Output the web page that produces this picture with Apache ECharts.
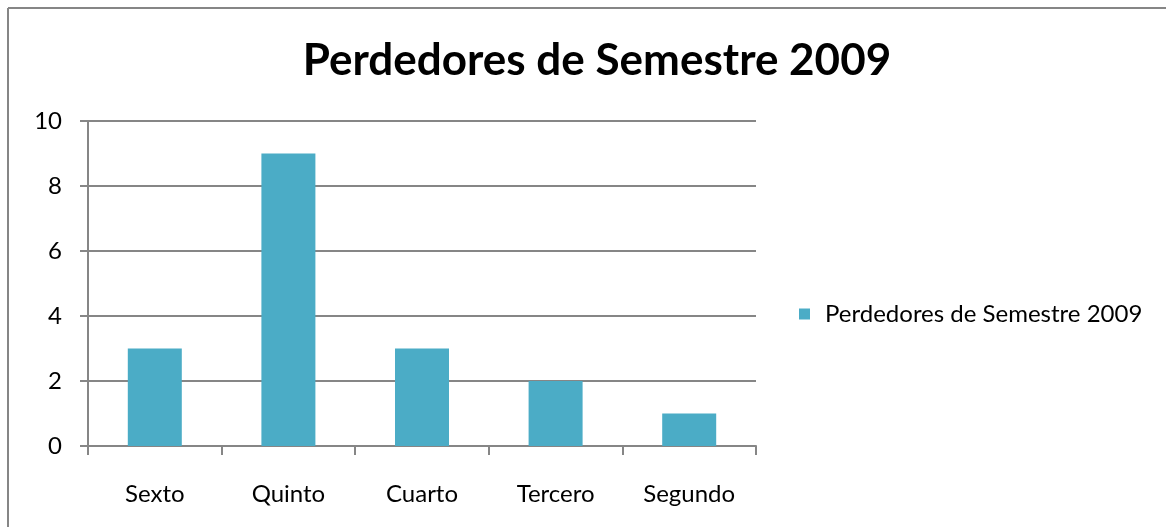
<!DOCTYPE html>
<html><head><meta charset="utf-8">
<script src="https://cdn.jsdelivr.net/npm/echarts@6/dist/echarts.min.js"></script>
<style>html,body{margin:0;padding:0;background:#fff}#c{width:1166px;height:527px}</style>
</head><body><div id="c"></div>
<script>
const title = 'Perdedores de Semestre 2009';
const categories = ['Sexto', 'Quinto', 'Cuarto', 'Tercero', 'Segundo'];
const values = [3, 9, 3, 2, 1];
const yTicks = [0, 2, 4, 6, 8, 10];

const chart = echarts.init(document.getElementById('c'));
const font = 'Lato, "Open Sans", sans-serif';
chart.setOption({
  animation: false,
  title: {
    text: title, left: 592, top: 34, textAlign: 'center',
    textStyle: { fontFamily: font, fontWeight: 'bold', fontSize: 44, color: '#000' }
  },
  legend: {
    left: 799, top: 302, padding: 0, itemWidth: 11, itemHeight: 11, itemGap: 10,
    icon: 'rect',
    textStyle: { fontFamily: font, fontSize: 24, color: '#000', padding: [0,0,0,10] },
    data: [title]
  },
  grid: { left: 88, right: 1166 - 756, top: 121, bottom: 527 - 446, containLabel: false },
  xAxis: {
    type: 'category', data: categories,
    axisLine: { lineStyle: { color: '#868686', width: 2 } },
    axisTick: { show: true, length: 9, lineStyle: { color: '#868686', width: 2 } },
    axisLabel: { fontFamily: font, fontSize: 24, color: '#000', margin: 36 }
  },
  yAxis: {
    type: 'value', min: yTicks[0], max: yTicks[yTicks.length - 1], interval: 2,
    axisLine: { show: true, lineStyle: { color: '#868686', width: 2 } },
    axisTick: { show: true, length: 8, lineStyle: { color: '#868686', width: 2 } },
    splitLine: { lineStyle: { color: '#868686', width: 2 } },
    axisLabel: { fontFamily: font, fontSize: 24, color: '#000', margin: 26 }
  },
  series: [{
    name: title, type: 'bar', data: values, barWidth: 54,
    itemStyle: { color: '#4BACC6' }
  }],
  graphic: [
    { type: 'line', shape: { x1: 8, y1: 8, x2: 1166, y2: 8 }, style: { stroke: '#868686', lineWidth: 2 } },
    { type: 'line', shape: { x1: 8, y1: 8, x2: 8, y2: 527 }, style: { stroke: '#868686', lineWidth: 2 } }
  ]
});
</script></body></html>
